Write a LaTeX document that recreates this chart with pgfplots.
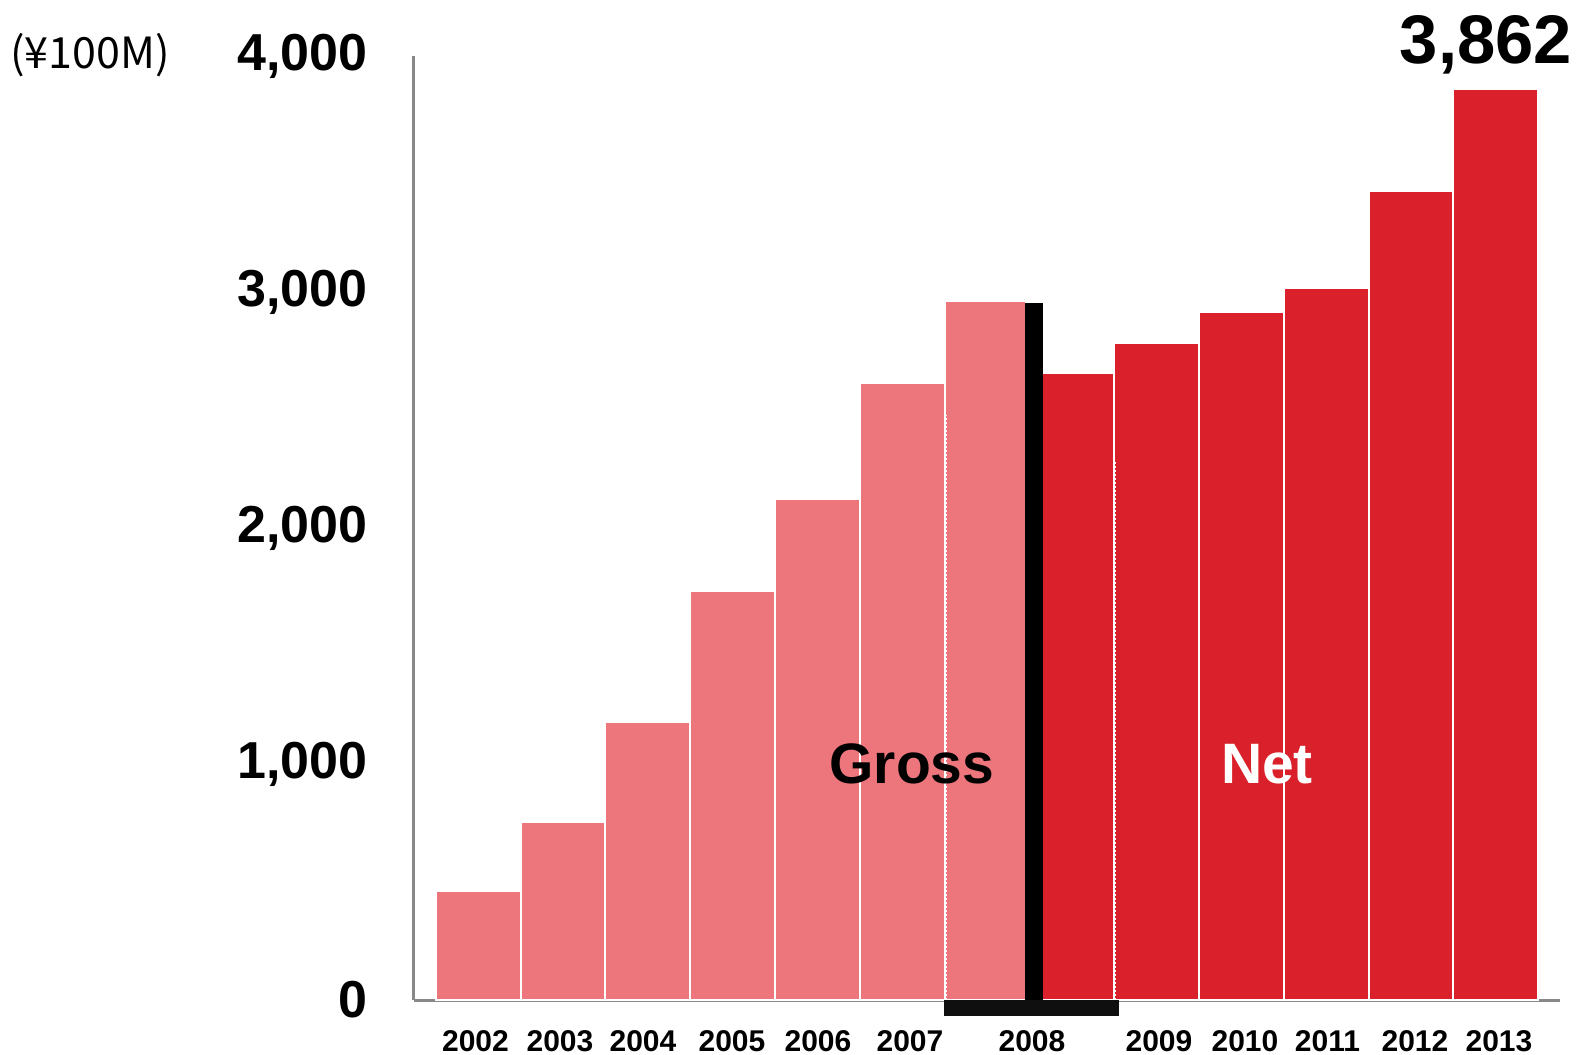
\documentclass[border=0pt]{standalone}
\usepackage{fontspec}
\setmainfont{Liberation Sans}
\newfontfamily\cjk{Noto Sans CJK JP}
\usepackage{pgfplots}
\pgfplotsset{compat=1.18}
\definecolor{lightred}{RGB}{236,118,124}
\definecolor{darkred}{RGB}{218,32,42}
\definecolor{axisgray}{RGB}{136,136,136}
\begin{document}
\begin{tikzpicture}
\path[use as bounding box] (-207pt,-27.5pt) rectangle (583pt,500pt);
\begin{axis}[
  at={(0,0)}, anchor=south west,
  scale only axis, width=573pt, height=472pt,
  xmin=414, xmax=1560, ymin=0, ymax=4000,
  clip=false,
  axis x line=bottom, axis y line=left,
  axis line style={-, draw=axisgray, line width=1.5pt},
  major tick length=0pt,
  ytick={0,1000,2000,3000,4000},
  yticklabels={0,{1,000},{2,000},{3,000},{4,000}},
  yticklabel style={font=\fontsize{26}{26}\selectfont\bfseries, inner sep=0pt, xshift=-23pt},
  xtick={475.5,560,643,732,818,910,1032,1159,1245,1327.5,1415,1499},
  xticklabels={2002,2003,2004,2005,2006,2007,2008,2009,2010,2011,\raisebox{-1pt}{2012},\raisebox{-1.5pt}{2013}},
  xticklabel style={font=\fontsize{15}{15}\selectfont\bfseries, inner sep=0pt, yshift=-15pt},
]
% Gross (light red)
\addplot[ybar interval, fill=lightred, draw=white, line width=1pt]
  coordinates {(436,461)(520.7,753)(605.5,1176)(690.2,1731)(774.9,2124)(859.6,2614)(944.7,2960)(1026,0)};
% Net (dark red)
\addplot[ybar interval, fill=darkred, draw=white, line width=1pt]
  coordinates {(1042,2657)(1114,2784)(1199.3,2914)(1284,3016)(1368.7,3426)(1453.3,3862)(1538,0)};
% black separator
\addplot[ybar interval, fill=black, draw=none]
  coordinates {(1025,2955)(1043,0)};
\addplot[ybar interval, fill=black!94, draw=none]
  coordinates {(944,-68)(1119,0)};
% dotted white lines
\addplot[white, line width=0.85pt, dash pattern=on 1pt off 1pt]
  coordinates {(946.2,0)(946.2,2479)};
\addplot[white, line width=0.85pt, dash pattern=on 1pt off 1pt]
  coordinates {(1115,0)(1115,2280)};
\node[anchor=base, font=\fontsize{28.5}{28.5}\selectfont\bfseries] at (axis cs:912,919) {Gross};
\node[anchor=base, font=\fontsize{28.5}{28.5}\selectfont\bfseries, text=white] at (axis cs:1267,919) {Net};
\node[anchor=base, font=\fontsize{34.4}{34.4}\selectfont\bfseries] at (axis cs:1486,3970) {3,862};
\node[anchor=base, font=\cjk\fontsize{21.5}{21.5}\selectfont] at (axis cs:90,3949) {(¥100M)};
\end{axis}
\end{tikzpicture}
\end{document}
